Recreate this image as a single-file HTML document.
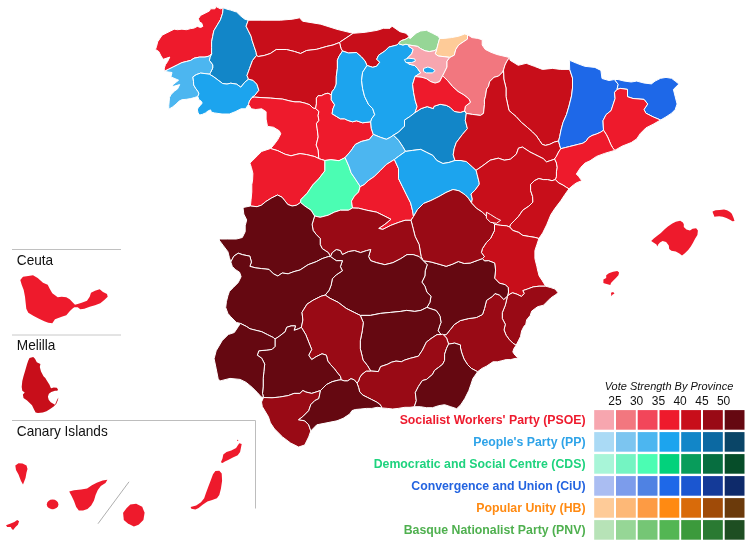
<!DOCTYPE html>
<html><head><meta charset="utf-8"><style>
html,body{margin:0;padding:0;background:#fff;}
svg{display:block;}
.lab{font-family:"Liberation Sans",Arial,sans-serif;font-weight:bold;font-size:12.3px;}
.num{font-family:"Liberation Sans",Arial,sans-serif;font-size:12px;fill:#111;}
.ttl{font-family:"Liberation Sans",Arial,sans-serif;font-style:italic;font-size:11px;fill:#111;}
.ins{font-family:"Liberation Sans",Arial,sans-serif;font-size:13.65px;fill:#111;}
</style></head><body>
<svg width="750" height="545" viewBox="0 0 750 545">
<g stroke="#fff" stroke-width="1" stroke-linejoin="round">
<path d="M223.2,7.7 220.4,8.8 216,6.6 214.9,8.8 210.5,8.8 209.4,11 205,13.2 200.6,15.4 198.4,18.7 199.5,22 201.7,23.1 202.8,26.4 200.6,27.5 197.3,26.4 194,28.1 190.7,28.6 186.3,29.7 181.9,29.2 177.5,29.7 174.2,29.2 170.9,30.8 166.5,33 162.1,35.2 159.9,38.5 157.7,41.8 156.6,46.2 155.5,49.4 158.8,51.6 161,56 163.2,59.3 169.8,57.1 167.6,61.5 165.4,64.8 164.3,68.1 164.3,71.4 168.7,69.2 173.1,67 177.5,64.8 181.9,62.6 186.3,61.5 190.7,60.4 194,58.2 199.5,57.1 205,57.1 209.4,56 211.6,53.8 211.6,47.3 211.6,41.8 212.7,36.3 213.8,30.8 217.1,25.3 220.4,19.8 222.6,13.2 223.2,7.7Z" fill="#EE1A2C"/>
<path d="M223.2,7.7 226.6,9.1 230.7,10.1 236.7,12.1 240.8,16.1 244.8,19.2 248.3,20.2 246.1,26.2 248.1,30.3 251.1,36.3 252.1,40.4 254.1,46.4 256.2,52.5 256.5,55.5 252.5,60.5 249.5,68.6 247,75.5 248.5,79.2 244.8,82.2 240.8,87.2 236.7,84.2 230.7,83.2 227,84.1 222.6,83.5 218.2,80.2 213.8,76.9 209.4,74.2 210.5,72.5 212.7,68.1 212.7,64.8 209.4,60.4 210,57.1 211.6,53.8 211.6,47.3 211.6,41.8 212.7,36.3 213.8,30.8 217.1,25.3 220.4,19.8 222.6,13.2 223.2,7.7Z" fill="#1286C8"/>
<path d="M164.3,71.4 172,72.5 170.9,76.9 178.6,80.2 173.1,84.6 172,86.8 179.7,84.6 177.5,89 174.7,90.9 171,94.5 169.5,97.5 169.2,101.1 168.8,105.5 168.8,109.2 172.5,107 176.1,104.1 179.1,101.1 182,99.7 186.4,99.3 190.8,98.6 194.5,97.5 197.8,96.5 198.9,93.8 198.1,91.6 195.9,88.7 193.7,85 193.5,81.3 192.9,76.9 196.2,74.7 200.6,73.1 205,73.6 209.4,74.2 210.5,72.5 212.7,68.1 212.7,64.8 209.4,60.4 210,57.1 211.6,53.8 209.4,56 205,57.1 199.5,57.1 194,58.2 190.7,60.4 186.3,61.5 181.9,62.6 177.5,64.8 173.1,67 168.7,69.2 164.3,71.4Z" fill="#4CB6F0"/>
<path d="M209.4,74.2 205,73.6 200.6,73.1 196.2,74.7 192.9,76.9 193.5,81.3 193.7,85 195.9,88.7 198.1,91.6 198.9,93.8 197.8,96.5 198.9,99.7 201.1,101.1 202.2,103 200.3,105.5 198.1,107.7 197.4,109.9 198.1,112.9 199.6,115.1 202.5,114.3 205.5,112.9 208.4,110.7 210.6,109.9 211.3,112.1 214.3,112.9 222,114 229.4,114 235.2,111.7 241.1,108.8 245.5,108.8 248.5,104.4 249.5,101 252,97.5 254.9,95.3 258.9,90.3 256.9,84.2 252.9,80.2 248.5,79.2 244.8,82.2 240.8,87.2 236.7,84.2 230.7,83.2 227,84.1 222.6,83.5 218.2,80.2 213.8,76.9 209.4,74.2Z" fill="#1CA4EE"/>
<path d="M248.3,20.2 260.2,20.2 280.4,20.2 292.5,19.2 299.6,17.8 302.6,21.2 320.8,24.2 336.9,29.3 353.1,33.3 347,37.4 341,41.4 339.5,42.5 333,45 326.8,46.4 316.7,49.3 306.6,50.5 300.6,53.5 294.5,51.5 286.4,49.5 276.3,49.5 270.3,53.5 264.2,55.5 258.2,56.5 256.5,55.5 256.2,52.5 254.1,46.4 252.1,40.4 251.1,36.3 248.1,30.3 246.1,26.2 248.3,20.2Z" fill="#C80E1A"/>
<path d="M353.1,33.3 365.2,32.3 377.3,30.3 383.3,28.3 390,28.3 392.1,26.2 400,31.7 405.9,33.2 408.8,36.2 408.5,37.5 405,39.5 401.5,40.5 399,42.5 398.5,43.5 396.9,45 388.8,47.1 384.8,51.1 378.7,55.1 376.7,59.2 379.7,62.2 376.7,66.2 372.7,67.3 367,65.5 365,61 361.5,57 356.5,52.5 348.5,53 342.5,51 341,48.5 339.5,42.5 341,41.4 347,37.4 353.1,33.3Z" fill="#C80E1A"/>
<path d="M256.5,55.5 258.2,56.5 264.2,55.5 270.3,53.5 276.3,49.5 286.4,49.5 294.5,51.5 300.6,53.5 306.6,50.5 316.7,49.3 326.8,46.4 333,45 339.5,42.5 341,48.5 342.5,51 338.9,56.5 337.4,60.2 337.4,68.3 336.3,76.3 336.2,84.1 334.6,88.3 332.1,91.6 331.3,94.9 328,93.2 324.7,94 321.4,95.7 318.1,95.7 316.4,98.2 316.4,103.9 315.6,108.6 313.1,108.1 309.8,104.8 304.9,103.1 299.9,101.9 295,101.9 290,101 282.5,99.1 270.4,98.1 260,97.5 254.2,97.1 252,97.5 254.9,95.3 258.9,90.3 256.9,84.2 252.9,80.2 248.5,79.2 247,75.5 249.5,68.6 252.5,60.5 256.5,55.5Z" fill="#C80E1A"/>
<path d="M252,97.5 249.5,101 248.5,104.4 251.4,108.8 255.8,109.5 261.7,108.8 266.1,111.7 266.1,119.1 267.5,126.4 273.4,127.2 279.3,130.8 280.8,133.8 277.8,139.6 273.4,145.5 270.5,148.5 277.8,150.7 285.2,154.3 291,155.8 296.9,154.3 300,153.6 306.7,154.6 314.8,156.6 318.8,158.6 318.2,150 316.2,145 318.2,136.9 317.2,128.8 316.4,123.7 318.9,120.4 318.1,115.5 318.9,111.4 315.6,108.6 313.1,108.1 309.8,104.8 304.9,103.1 299.9,101.9 295,101.9 290,101 282.5,99.1 270.4,98.1 260,97.5 254.2,97.1 252,97.5Z" fill="#EE1A2C"/>
<path d="M315.6,108.6 316.4,103.9 316.4,98.2 318.1,95.7 321.4,95.7 324.7,94 328,93.2 331.3,94.9 331.3,99.8 334.6,104.8 332.9,108.9 332.1,113.8 336.2,116.3 340.3,118.8 344.5,118.8 347.8,120.4 352.5,121.8 356.5,120.8 362.6,122.8 370.7,121.8 371.3,128.4 373.3,134.4 369.3,139.5 361.2,141.5 355.2,144.5 351.1,150.6 345.1,157.6 339,160.7 330.9,159.7 324.9,160.5 321.5,159.5 318.8,158.6 318.2,150 316.2,145 318.2,136.9 317.2,128.8 316.4,123.7 318.9,120.4 318.1,115.5 318.9,111.4 315.6,108.6Z" fill="#EE1A2C"/>
<path d="M270.5,148.5 261.7,151.4 257.3,155.8 252.9,160.2 249.9,163.1 251.4,167.5 252.9,173.4 252.6,180 251.8,184.7 251.8,192 251.1,199.4 250.4,206 257,206.7 261.4,205.2 265.8,201.6 271.7,197.9 277.5,195 282,197.2 284.9,200.8 287.8,204.5 292.2,206 296.6,205.2 300.5,202.5 301,199.4 304,196.4 306.9,193.5 308.7,191 312.8,184.9 318.8,178.8 324.9,170.8 324.9,160.5 321.5,159.5 318.8,158.6 314.8,156.6 306.7,154.6 300,153.6 296.9,154.3 291,155.8 285.2,154.3 277.8,150.7 270.5,148.5Z" fill="#EE1A2C"/>
<path d="M324.9,160.5 324.9,170.8 318.8,178.8 312.8,184.9 308.7,191 306.9,193.5 304,196.4 301,199.4 300.5,202.5 305,206.2 311,210.2 314.6,216 320.2,217.3 328.3,215.2 334.3,212.2 340.4,210.2 348.5,210.2 352.5,208 351.5,201.1 354.5,196.1 358.6,192 360.1,186.7 359.2,184.9 355.2,178.8 351.1,172.8 349.1,166.7 345.1,157.6 339,160.7 330.9,159.7 324.9,160.5Z" fill="#4BFDB3"/>
<path d="M342.5,51 348.5,53 356.5,52.5 361.5,57 365,61 367,65.5 362.6,72.3 361.6,80.4 362.6,88.5 364.6,96.5 368.6,104.6 372.7,108.6 374.7,114.7 371.7,118.7 370.7,121.8 362.6,122.8 356.5,120.8 352.5,121.8 347.8,120.4 344.5,118.8 340.3,118.8 336.2,116.3 332.1,113.8 332.9,108.9 334.6,104.8 331.3,99.8 331.3,94.9 332.1,91.6 334.6,88.3 336.2,84.1 336.3,76.3 337.4,68.3 337.4,60.2 338.9,56.5 342.5,51Z" fill="#1CA4EE"/>
<path d="M367,65.5 372.7,67.3 376.7,66.2 379.7,62.2 376.7,59.2 378.7,55.1 384.8,51.1 388.8,47.1 396.9,45 398.5,43.5 400,44.2 402.9,45 405.9,44.2 409,45 408.8,46.4 413.2,49.4 411.7,53.8 407.3,58.2 405.9,61.1 408.8,64.1 414.7,65.5 417.6,68.5 420.6,72.9 415,76.5 412.6,84.4 413.6,92.5 415.3,100.9 417.1,106.6 415.1,112.5 410.6,116.1 404.5,120.1 404.5,126.2 398.5,132.2 393.4,135.2 390.4,137.3 386.3,139.3 380.3,137.3 373.3,134.4 371.3,128.4 370.7,121.8 371.7,118.7 374.7,114.7 372.7,108.6 368.6,104.6 364.6,96.5 362.6,88.5 361.6,80.4 362.6,72.3 367,65.5Z" fill="#1CA4EE"/>
<path d="M393.4,135.2 398.5,132.2 404.5,126.2 404.5,120.1 410.6,116.1 415.1,112.5 421.1,108.6 427.2,106.6 433.3,108.6 434,106.3 440.1,104.3 446.2,105.3 450.2,107.4 454.2,111.4 460.3,112.4 464.5,111 466.3,113.4 465.3,120.5 467.4,128.6 462.3,134.6 456.2,142.7 454.2,148.7 453.2,154.8 455,160.5 448.9,162.5 442.9,163.5 436.8,160.5 432.8,155.4 426.7,152.4 420.7,149.4 412.6,150.4 405.5,151.4 402.5,146.3 398.5,140.3 393.4,135.2Z" fill="#1286C8"/>
<path d="M373.3,134.4 380.3,137.3 386.3,139.3 390.4,137.3 393.4,135.2 398.5,140.3 402.5,146.3 405.5,151.4 398.5,156.4 394.4,159.5 386.3,164.5 380.3,170.6 374.2,176.6 368.2,180.7 364.1,184.7 360.1,186.7 359.2,184.9 355.2,178.8 351.1,172.8 349.1,166.7 345.1,157.6 351.1,150.6 355.2,144.5 361.2,141.5 369.3,139.5 373.3,134.4Z" fill="#4CB6F0"/>
<path d="M360.1,186.7 364.1,184.7 368.2,180.7 374.2,176.6 380.3,170.6 386.3,164.5 394.4,159.5 398.5,168.6 398.5,178.6 402.5,186.7 406.5,194.8 410.6,202.9 412.6,210.9 413.5,216.5 411,220.3 405,220.3 398.9,222.3 390.9,225.3 382.8,229.4 378.7,228.4 384.8,224.3 390.9,219.3 384.8,216.2 376.7,212.2 366.6,210.2 358.6,208.2 352.5,208 351.5,201.1 354.5,196.1 358.6,192 360.1,186.7Z" fill="#EE1A2C"/>
<path d="M394.4,159.5 398.5,156.4 405.5,151.4 412.6,150.4 420.7,149.4 426.7,152.4 432.8,155.4 436.8,160.5 442.9,163.5 448.9,162.5 455,160.5 461,160.5 466.3,161.5 472.4,166.9 476.1,170.3 477.2,174.6 479.2,182.7 479.2,184.4 475.2,190 471,194 472.3,199 471.5,203 468.3,198.1 465.1,194.8 459,190.8 453,189.5 446,192.5 439,196.5 431,200.5 423.5,203.5 417.5,209.5 413.5,216.5 412.6,210.9 410.6,202.9 406.5,194.8 402.5,186.7 398.5,178.6 398.5,168.6 394.4,159.5Z" fill="#1CA4EE"/>
<path d="M408.5,37.5 410.3,38.5 413,36 416.2,33.2 420.6,31 426.4,30.3 432.3,33.2 438.2,36.2 439.6,38.5 438.2,43.5 436.7,49.4 433.8,50.8 429.4,51.6 425,50.8 420.6,48.6 417.6,46.4 413.2,45.7 409,45 405.9,44.2 402.9,45 400,44.2 398.5,43.5 399,42.5 401.5,40.5 405,39.5 408.5,37.5Z" fill="#96D696"/>
<path d="M439.6,38.5 444.1,38.4 451.4,37.6 458.7,36.2 464.6,34 467.5,34.7 467.5,39.1 463.1,42 458.7,45 455.8,49.4 454.3,55.2 449.9,57.4 444.1,56.7 438.2,56 435.2,53.8 436.7,49.4 438.2,43.5 439.6,38.5Z" fill="#FECB98"/>
<path d="M409,45 413.2,45.7 417.6,46.4 420.6,48.6 425,50.8 429.4,51.6 433.8,50.8 436.7,49.4 435.2,53.8 438.2,56 444.1,56.7 449.9,57.4 447,61.1 447,67 444.1,72.9 442.6,75.8 439.6,81.7 435.2,83.1 430.8,81.7 426.4,78.7 422,77.3 415,76.5 420.6,72.9 417.6,68.5 414.7,65.5 408.8,64.1 405.9,61.1 407.3,58.2 411.7,53.8 413.2,49.4 408.8,46.4 409,45Z" fill="#F7A6AF"/>
<path d="M467.5,34.7 472,37.6 477.8,38.4 482.2,39.8 482.2,45 485.2,49.4 491,52.3 496.9,54.5 501.1,55.5 509.5,57.5 507,61 505,65 503.5,70 502.7,72 498.6,76.1 494,77.3 489.6,81.7 488.6,86.2 486.6,89 485.5,96.2 484.4,100 484.5,104.3 483.5,113.4 480.5,115.4 472.4,114.4 466.3,113.4 464.5,111 465.3,106.3 470.4,102.3 469,99 464,95 458,91.5 452.5,86.5 447.5,80.5 442.6,75.8 444.1,72.9 447,67 447,61.1 449.9,57.4 454.3,55.2 455.8,49.4 458.7,45 463.1,42 467.5,39.1 467.5,34.7Z" fill="#F2777F"/>
<path d="M415,76.5 422,77.3 426.4,78.7 430.8,81.7 435.2,83.1 439.6,81.7 442.6,75.8 447.5,80.5 452.5,86.5 458,91.5 464,95 469,99 470.4,102.3 465.3,106.3 464.5,111 460.3,112.4 454.2,111.4 450.2,107.4 446.2,105.3 440.1,104.3 434,106.3 433.3,108.6 427.2,106.6 421.1,108.6 415.1,112.5 417.1,106.6 415.3,100.9 413.6,92.5 412.6,84.4 415,76.5Z" fill="#EE1A2C"/>
<path d="M509.5,57.5 510.1,60.3 518.2,65.3 526.2,63.3 534.3,66.3 542.4,69.4 552.5,68.4 560.6,69.4 569.7,69.4 572.5,78 572.5,88 571.5,96 569,106 566.5,114.5 563,122.5 561,130 559.7,136.6 558.6,141 554.2,142.1 549.8,144.3 545.4,145.4 542.1,144.3 539.5,140.5 536.5,136 532.5,132 527.5,127.5 521.5,122.5 516,116.5 509,110.5 507.8,105 506,96.5 506,88 503.8,79 503.5,70 505,65 507,61 509.5,57.5Z" fill="#C80E1A"/>
<path d="M464.5,111 466.3,113.4 472.4,114.4 480.5,115.4 483.5,113.4 484.5,104.3 484.4,100 485.5,96.2 486.6,89 488.6,86.2 489.6,81.7 494,77.3 498.6,76.1 502.7,72 503.5,70 503.8,79 506,88 506,96.5 507.8,105 509,110.5 516,116.5 521.5,122.5 527.5,127.5 532.5,132 536.5,136 539.5,140.5 542.1,144.3 545.4,145.4 549.8,144.3 554.2,142.1 558.6,141 559.7,145.4 560.8,148.7 558.6,152 556.4,156.4 554.5,159 553.1,159.7 549.8,160.8 546.5,161.9 543.2,158.6 538.8,156.4 534.4,154.2 530,152 528.6,151.1 522.5,147.1 518.5,148.1 516.4,154.1 510.4,159.2 504.3,160.2 498.3,158.2 490.2,160.2 482.1,166.2 476.1,170.3 472.4,166.9 466.3,161.5 461,160.5 455,160.5 453.2,154.8 454.2,148.7 456.2,142.7 462.3,134.6 467.4,128.6 465.3,120.5 466.3,113.4 464.5,111Z" fill="#C80E1A"/>
<path d="M569.7,69.4 569.5,64 569.7,60.3 576.7,63.3 584.8,66.3 594.9,67.4 600.9,70.4 602,78.5 609,80.5 614.5,79.5 618.2,84.3 617,89.5 614.5,92.4 615.1,98.5 613.1,104.5 611.1,110.6 606.1,114.6 603,120.7 603.5,130.2 600.6,132.2 596.5,134 592,135.5 588.4,137.7 586.2,141 582.9,143.2 578.5,144.3 574.1,145.4 569.6,146.5 565.2,147.6 560.8,148.7 559.7,145.4 558.6,141 559.7,136.6 561,130 563,122.5 566.5,114.5 569,106 571.5,96 572.5,88 572.5,78 569.7,69.4Z" fill="#1E68E8"/>
<path d="M614.5,79.5 618,79.5 624,81 631.2,82 636.7,81.1 644,83 651.4,83.9 655,81.1 660.6,78.3 666,77.4 671.6,78.3 675.2,81.1 678.9,84 673.4,89.4 675.2,96.7 677.1,104 675.2,109.5 671.6,113.2 666,116.9 660.6,120 653.2,116.9 645.9,113.2 644,109.5 647.7,104 644,99.4 633,98.5 627.5,96.7 627.5,89.4 620.2,88.4 617,89.5 618.2,84.3 614.5,79.5Z" fill="#1E68E8"/>
<path d="M617,89.5 620.2,88.4 627.5,89.4 627.5,96.7 633,98.5 644,99.4 647.7,104 644,109.5 645.9,113.2 653.2,116.9 660.6,120 653.2,124.2 645.9,127.9 640.4,133.4 636.7,138.9 631.2,142.6 622,146.2 614.7,150.4 612.5,147.5 610.7,144.3 608.1,138 606.3,134.5 603.5,130.2 603,120.7 606.1,114.6 611.1,110.6 613.1,104.5 615.1,98.5 614.5,92.4 617,89.5Z" fill="#EE1A2C"/>
<path d="M560.8,148.7 565.2,147.6 569.6,146.5 574.1,145.4 578.5,144.3 582.9,143.2 586.2,141 588.4,137.7 592,135.5 596.5,134 600.6,132.2 603.5,130.2 606.3,134.5 608.1,138 610.7,144.3 612.5,147.5 614.7,150.4 604.6,153.4 596.5,156.4 590,160.8 585.1,163 580.7,167.4 576.3,174.1 578.5,176.3 581.8,180.7 576.3,182.9 571.9,186.2 569,188.8 566.3,187.3 563,185.1 558.6,182.9 555.3,179.6 556.4,176.3 556.4,171.9 557,167.4 556.4,163 554.5,159 556.4,156.4 558.6,152 560.8,148.7Z" fill="#EE1A2C"/>
<path d="M476.1,170.3 482.1,166.2 490.2,160.2 498.3,158.2 504.3,160.2 510.4,159.2 516.4,154.1 518.5,148.1 522.5,147.1 528.6,151.1 530,152 534.4,154.2 538.8,156.4 543.2,158.6 546.5,161.9 549.8,160.8 553.1,159.7 554.5,159 556.4,163 557,167.4 556.4,171.9 556.4,176.3 555.3,179.6 552,180.7 547.6,179.6 543.2,179.6 538.8,178.5 534.4,180.7 530.6,184.4 530.6,190.5 532.6,196.5 532.9,202.1 528.8,206.2 522.8,210.2 518.7,216.2 514.7,220.3 510.7,224.3 509.7,227 506.5,225.8 500.5,225.3 494.5,224.3 490.5,220.3 486.4,216.2 482.4,212.2 476.3,208.2 471.5,203 472.3,199 471,194 475.2,190 479.2,184.4 479.2,182.7 477.2,174.6 476.1,170.3Z" fill="#C80E1A"/>
<path d="M555.3,179.6 558.6,182.9 563,185.1 566.3,187.3 569,188.8 564.9,194.5 560.9,200.6 554.8,208.6 550.8,214.7 546.7,224.8 542.7,232.9 538.9,238.5 534.9,237.4 528.8,236.4 522.8,235.4 518.7,232.4 512.7,230.4 509.7,227 510.7,224.3 514.7,220.3 518.7,216.2 522.8,210.2 528.8,206.2 532.9,202.1 532.6,196.5 530.6,190.5 530.6,184.4 534.4,180.7 538.8,178.5 543.2,179.6 547.6,179.6 552,180.7 555.3,179.6Z" fill="#C80E1A"/>
<path d="M494.5,224.3 500.5,225.3 506.5,225.8 509.7,227 512.7,230.4 518.7,232.4 522.8,235.4 528.8,236.4 534.9,237.4 538.9,238.5 536.9,244.5 534.9,250.6 534.9,258.6 536.9,266.7 537.6,270 539.1,275.9 542,280.3 545.7,286.2 539.1,286.2 533.2,286.9 527.3,289.1 522.9,290.6 524.4,293.5 521.4,296.4 517,294.2 512.6,292.8 510,294 507.5,296 508.5,292 508.2,287.6 505.3,284.7 499.4,283.2 494.6,278.2 495.6,270.1 494.6,263 488.5,260.7 484.5,261 482.4,258.6 484.4,256.6 481.4,252.6 482.4,248.6 486.4,242.5 490.5,238.5 494.5,230.4 494.5,224.3Z" fill="#C80E1A"/>
<path d="M545.7,286.2 539.1,286.2 533.2,286.9 527.3,289.1 522.9,290.6 524.4,293.5 521.4,296.4 517,294.2 512.6,292.8 510,294 507.5,296 505.3,305.2 502.3,312.6 502.3,318.5 505.3,324.3 504,329.9 506.2,335.4 509.5,339.8 512.8,343.1 516.1,345.3 518.3,340.9 520.5,336.5 521.6,331 523.8,326.6 525.8,324.3 526.6,319.9 530.2,315.5 531.7,311.1 537.6,306.7 543.5,305.2 546.4,302.3 550.8,297.9 555.2,295 558.1,292.8 555.2,289.1 550.8,287.6 545.7,286.2Z" fill="#990A15"/>
<path d="M441,334.6 446.2,334.7 450.2,329.7 454.2,324.6 460.3,320.6 468.4,318.6 476.4,317.5 482.5,314.5 484.5,308.5 486.5,300.4 492.6,296.3 495,293.5 499.4,295 503.8,299.4 507.5,296 505.3,305.2 502.3,312.6 502.3,318.5 505.3,324.3 504,329.9 506.2,335.4 509.5,339.8 512.8,343.1 516.1,345.3 513.9,348.6 512.8,351.9 515,355.2 518.3,358 515,358.5 510.6,359.6 506.2,359.6 501.8,360.7 497.4,361.8 493,361.8 489.7,364 486.4,366.2 482,368.4 477.6,371.7 471.5,368.5 467.5,364.5 464,359 461.8,353 460.5,348 460.5,345 454.7,343.1 448.6,344.1 446.6,338.1 442.6,334 441,334.6Z" fill="#990A15"/>
<path d="M423.2,260.7 431.2,262 440.1,264.5 446.2,266.3 452.2,264.3 458.3,261.5 464.3,263.5 470.4,263 478.5,260 482.4,258.6 484.5,261 488.5,260.7 494.6,263 495.6,270.1 494.6,278.2 499.4,283.2 505.3,284.7 508.2,287.6 508.5,292 507.5,296 503.8,299.4 499.4,295 495,293.5 492.6,296.3 486.5,300.4 484.5,308.5 482.5,314.5 476.4,317.5 468.4,318.6 460.3,320.6 454.2,324.6 450.2,329.7 446.2,334.7 441,334.6 438.1,330.7 440.1,324.6 441,322.5 440.1,316.5 439,314.4 436.1,310.5 430,308.5 426.9,307.4 429.9,302.3 431,296.2 426.9,292.2 424.9,286.2 421.9,282.1 424.9,276 425.2,270.8 427.2,264.7 423.2,260.7Z" fill="#650811"/>
<path d="M423.2,260.7 421.1,256.6 420.1,250.6 419.1,244.5 415.1,236.4 413.1,228.4 411,220.3 413.5,216.5 417.5,209.5 423.5,203.5 431,200.5 439,196.5 446,192.5 453,189.5 459,190.8 465.1,194.8 468.3,198.1 471.5,203 476.3,208.2 482.4,212.2 486.4,216.2 490.5,220.3 494.5,224.3 494.5,230.4 490.5,238.5 486.4,242.5 482.4,248.6 481.4,252.6 484.4,256.6 482.4,258.6 478.5,260 470.4,263 464.3,263.5 458.3,261.5 452.2,264.3 446.2,266.3 440.1,264.5 431.2,262 423.2,260.7Z" fill="#990A15"/>
<path d="M314.6,216 320.2,217.3 328.3,215.2 334.3,212.2 340.4,210.2 348.5,210.2 352.5,208 358.6,208.2 366.6,210.2 376.7,212.2 384.8,216.2 390.9,219.3 384.8,224.3 378.7,228.4 382.8,229.4 390.9,225.3 398.9,222.3 405,220.3 411,220.3 413.1,228.4 415.1,236.4 419.1,244.5 420.1,250.6 421.1,256.6 423.2,260.7 419.1,256.6 413.1,254.6 407,254.6 400.9,258.6 392.9,262.7 384.8,264.7 376.7,262.7 370.7,260.7 368.6,256.6 370.7,249.6 366.6,250.6 360.6,252.6 354.5,250.6 348.5,251.6 342.4,254.6 340.4,250.6 336.3,249.6 332.3,252.6 330.5,256.6 328.3,252.6 322.2,248.6 320.2,244.5 320.2,238.5 316.2,234.4 313.1,230.4 312.1,224.3 314.6,216Z" fill="#990A15"/>
<path d="M330.5,256.6 332.3,252.6 336.3,249.6 340.4,250.6 342.4,254.6 348.5,251.6 354.5,250.6 360.6,252.6 366.6,250.6 370.7,249.6 368.6,256.6 370.7,260.7 376.7,262.7 384.8,264.7 392.9,262.7 400.9,258.6 407,254.6 413.1,254.6 419.1,256.6 423.2,260.7 427.2,264.7 425.2,270.8 424.9,276 421.9,282.1 424.9,286.2 426.9,292.2 431,296.2 429.9,302.3 426.9,307.4 420.9,310.4 414.8,311.4 406.7,310.4 400.7,311.4 390.6,312.4 380.5,313.4 370.4,315.4 360.3,315.4 354.2,312.4 346.2,308.4 338.1,302.3 330,298.3 325.2,295.1 329.2,290.1 331.2,284.9 332.3,278.8 336.3,274.8 342.4,270.8 340.4,266.7 342.4,260.7 336.3,260.7 330.5,256.6Z" fill="#650811"/>
<path d="M300.5,202.5 296.6,205.2 292.2,206 287.8,204.5 284.9,200.8 282,197.2 277.5,195 271.7,197.9 265.8,201.6 261.4,205.2 257,206.7 250.4,206 243,207.5 243.8,214.1 246.7,219.9 245.2,225.8 245.2,231.7 242.3,237.5 236.4,239 227.6,239 220.3,239 219.1,240 223.5,245.9 227.9,251.7 229.4,257.6 230.8,262 233.8,256.2 238.2,253.2 242.6,254.7 249.9,256.2 251.4,262 249.9,266.4 255.8,267.9 261.7,268.6 269,269.4 273.4,273.8 277.8,276 282.2,273 288.1,273.8 294,271.6 300,270 308.1,264.7 316.2,261.7 322.2,258.6 328.3,256.6 330.5,256.6 328.3,252.6 322.2,248.6 320.2,244.5 320.2,238.5 316.2,234.4 313.1,230.4 312.1,224.3 314.6,216 311,210.2 305,206.2 300.5,202.5Z" fill="#650811"/>
<path d="M230.8,262 232.3,266.4 235.2,269.4 239.6,272.3 241.1,276.7 238.2,282.6 233.8,287 229.4,291.4 227.9,295.8 226.4,301.7 225.7,307.5 227.9,313.4 230.3,316.3 236.3,322.4 240.4,323.4 246.4,326.4 250,328.8 255.9,330.3 261.7,331.7 267.6,334.7 273.5,337.6 275,339.1 279.4,336.2 285.2,331.7 286.7,327.3 291.1,325.9 295.5,325.9 294.1,330.3 298.5,328.8 301.4,327.3 302.9,320 302,312.3 307,304.2 313.1,300.2 321.1,296.2 325.2,295.1 329.2,290.1 331.2,284.9 332.3,278.8 336.3,274.8 342.4,270.8 340.4,266.7 342.4,260.7 336.3,260.7 330.5,256.6 328.3,256.6 322.2,258.6 316.2,261.7 308.1,264.7 300,270 294,271.6 288.1,273.8 282.2,273 277.8,276 273.4,273.8 269,269.4 261.7,268.6 255.8,267.9 249.9,266.4 251.4,262 249.9,256.2 242.6,254.7 238.2,253.2 233.8,256.2 230.8,262Z" fill="#650811"/>
<path d="M360.3,315.4 370.4,315.4 380.5,313.4 390.6,312.4 400.7,311.4 406.7,310.4 414.8,311.4 420.9,310.4 426.9,307.4 430,308.5 436.1,310.5 439,314.4 440.1,316.5 441,322.5 440.1,324.6 438.1,330.7 441,334.6 437,334.6 431,338.6 426.4,342.1 422.4,350.2 418.4,356.2 410.3,358.3 404.8,360 401.5,361.7 396,361.1 391.6,362.2 387.2,364.4 380.6,366.6 378.4,371.6 370.7,371 367.4,365.5 363,360 362.3,356.8 360.3,348.7 360.3,340.7 362.3,330.6 363.3,322.5 360.3,315.4Z" fill="#650811"/>
<path d="M370.7,371 378.4,371.6 380.6,366.6 387.2,364.4 391.6,362.2 396,361.1 401.5,361.7 404.8,360 410.3,358.3 418.4,356.2 422.4,350.2 426.4,342.1 431,338.6 437,334.6 441,334.6 442.6,334 446.6,338.1 448.6,344.1 446.6,348.2 444.6,354.2 444.6,360.3 442.6,364.3 438.6,367.4 434.5,370.4 432.5,374.4 426.4,379.5 422.4,380.5 418.4,386.5 415.3,392.6 416.3,400.7 414.3,406.7 410,407.3 404.8,407.3 398.2,408.4 392.7,409 387.2,408.4 381.7,407.9 381.2,406.2 379.5,404 376.2,401.8 371.8,399.6 367.4,397.4 363,395.2 359.7,391.9 358.6,387.5 357,383.1 358.6,380.9 359.7,377.6 361.9,374.3 366.3,371 370.7,371Z" fill="#990A15"/>
<path d="M448.6,344.1 454.7,343.1 460.5,345 460.5,348 461.8,353 464,359 467.5,364.5 471.5,368.5 477.6,371.7 475.4,375 472.9,378.5 470.9,384.5 468.8,390.6 464.8,398.6 460.8,404.7 456.7,408.7 450.7,406.7 444.6,404.7 438.6,405.7 432.5,407.7 426.4,407.7 420.4,406.7 414.3,406.7 416.3,400.7 415.3,392.6 418.4,386.5 422.4,380.5 426.4,379.5 432.5,374.4 434.5,370.4 438.6,367.4 442.6,364.3 444.6,360.3 444.6,354.2 446.6,348.2 448.6,344.1Z" fill="#650811"/>
<path d="M325.2,295.1 321.1,296.2 313.1,300.2 307,304.2 302,312.3 302.9,320 301.4,327.3 305.8,334.7 308.7,342 311.7,349.4 308.7,355.2 311.7,359.6 316.1,356.7 322,353.8 326.4,355.2 327.8,361.1 330.5,364.5 334.4,368.8 338,373.5 340.5,376.5 341,379.8 344.3,380.9 347.6,380.9 350.9,378.7 354.2,379.8 357,383.1 358.6,380.9 359.7,377.6 361.9,374.3 366.3,371 370.7,371 367.4,365.5 363,360 362.3,356.8 360.3,348.7 360.3,340.7 362.3,330.6 363.3,322.5 360.3,315.4 354.2,312.4 346.2,308.4 338.1,302.3 330,298.3 325.2,295.1Z" fill="#990A15"/>
<path d="M301.4,327.3 305.8,334.7 308.7,342 311.7,349.4 308.7,355.2 311.7,359.6 316.1,356.7 322,353.8 326.4,355.2 327.8,361.1 330.5,364.5 334.4,368.8 338,373.5 340.5,376.5 341,379.8 338.1,380.2 332.2,381.7 326.4,384.6 320.5,390.5 316.1,392 311.7,393.4 305.8,392 302.9,390.5 299.9,393.4 294.1,393.4 288.2,395.6 279.4,397.1 272,397.8 263.5,397.5 262.5,393.4 263.2,386.1 263.2,378.7 263.9,371.4 264.7,364.1 261.7,358.2 257.3,355.2 258.8,350.8 266.2,350.1 272,349.4 275,346.4 275,339.1 279.4,336.2 285.2,331.7 286.7,327.3 291.1,325.9 295.5,325.9 294.1,330.3 298.5,328.8 301.4,327.3Z" fill="#650811"/>
<path d="M240.4,323.4 238.4,326.4 234.3,332.5 228.3,334.5 222.2,340.6 216.2,350.7 214.1,358.7 216.2,368.8 218.2,378.9 220.2,380.9 230,378.4 240.1,379.4 246.2,382.4 252.2,387.4 257.3,392.5 261.3,397 263.5,397.5 262.5,393.4 263.2,386.1 263.2,378.7 263.9,371.4 264.7,364.1 261.7,358.2 257.3,355.2 258.8,350.8 266.2,350.1 272,349.4 275,346.4 275,339.1 273.5,337.6 267.6,334.7 261.7,331.7 255.9,330.3 250,328.8 246.4,326.4 240.4,323.4Z" fill="#650811"/>
<path d="M263.5,397.5 261.5,402 262.3,406.6 268.4,416.7 270.4,422.8 274.4,428.8 282.5,436.9 290.6,443 298.6,447 304.7,445 308.7,436.9 310.8,430.9 308.7,424.8 304.7,420.8 298.6,419.7 302.7,416.7 308.7,410.7 310.8,404.6 314.8,400.6 318.8,398.6 320.5,390.5 316.1,392 311.7,393.4 305.8,392 302.9,390.5 299.9,393.4 294.1,393.4 288.2,395.6 279.4,397.1 272,397.8 263.5,397.5Z" fill="#990A15"/>
<path d="M320.5,390.5 318.8,398.6 314.8,400.6 310.8,404.6 308.7,410.7 302.7,416.7 298.6,419.7 304.7,420.8 308.7,424.8 310.8,430.9 316.8,424.8 326.9,422.8 337,420.8 343.2,418.3 346.5,416.1 349.8,413.9 352,410.6 355.3,409.5 360.8,409 366.3,408.4 371.8,408.4 377.3,407.3 381.7,407.9 381.2,406.2 379.5,404 376.2,401.8 371.8,399.6 367.4,397.4 363,395.2 359.7,391.9 358.6,387.5 357,383.1 354.2,379.8 350.9,378.7 347.6,380.9 344.3,380.9 341,379.8 338.1,380.2 332.2,381.7 326.4,384.6 320.5,390.5Z" fill="#650811"/>
<path d="M423.5,68.5 427.9,67 432.3,68.5 435.2,70.7 432.3,72.9 426.4,72.9 423.5,71.4Z" fill="#1CA4EE"/>
<path d="M404.4,59.6 408.8,58.2 414.7,58.9 415.4,61.1 411.7,62.6 405.9,62.6Z" fill="#1CA4EE"/>
<path d="M486.4,212.2 490.5,214.5 496.5,218.3 500.6,220.3 496.5,223.3 490.5,222.3 486.4,218.3Z" fill="#C80E1A"/>
</g>
<g>
<path d="M651.2,241.1 653.8,238.4 657.3,235.8 660.9,233.1 664.4,229.6 667.9,226.5 672.3,223.5 675.8,221.7 680.2,220.8 682.9,222.6 683.8,224.3 683.8,227 686.4,229.6 689.9,230.5 692.6,228.7 696.1,228.3 697.9,230.5 697.4,234.9 695.2,238.4 693,242.8 690.8,246.4 688.2,249.9 684.6,253.4 682,255.6 679.4,253.4 675.8,251.6 671.4,250.8 669.2,249 668.8,245.5 666.1,242 662.6,241.1 660,242.4 658.2,244.6 657.3,246.4 656.5,244.6 653.8,242.8Z" fill="#EE1A2C"/>
<path d="M712.6,211.4 715.6,210.2 719.8,209.9 724,209.6 727,210.2 730,212 731.8,213.8 733.6,218 734.5,221 732.4,221.3 730,219.8 726.4,218 722.8,216.8 719.2,216.2 716.2,216.5 714.4,216.8 713.8,215 712.9,212.9Z" fill="#EE1A2C"/>
<path d="M603.4,282.9 603.4,279.4 606.2,278 606.2,275.2 608.9,273.2 613.1,271.8 617.3,271.1 619.1,272.5 618.4,275.2 615.9,278 613.1,280.8 611,282.9 610.3,285 607.6,284.3 604.8,283.6Z" fill="#EE1A2C"/>
<path d="M611,292.7 613.1,292 614.5,293.4 612.4,294.8 611.4,296.2Z" fill="#EE1A2C"/>
<path d="M20.3,280 23,276.7 28.3,276 33,275.3 37.7,278 43,282.7 47.7,284.7 49.7,288.7 52.3,293.3 55,295.3 57.7,297.3 61.7,296.7 66.3,297.3 69.7,299.3 72.3,302 75,304.7 77.7,304 81.7,302.7 87,300.7 89.7,296.7 91,292.7 95,290.7 99.7,289.3 103,292 107,294 107.7,296.7 104.3,300 100.3,303.3 95,305.3 89.7,306.7 84.3,308.7 80.3,309.3 77.7,307.3 74.3,307.3 72.3,308.7 69.7,311.3 66.3,315.3 61.7,316.7 55,319.3 52.3,323.3 48.3,322.7 44.3,321.3 39,318.7 33.7,316 28.3,312.7 26.3,308.7 25.7,303.3 25,296.7 23.7,290 21.7,284.7Z" fill="#EE1A2C"/>
<path d="M29.5,358.1 33.2,357.1 35,358.7 36.8,362.3 40.4,364.1 39.8,367.1 41,371.4 43.5,376.2 45.3,378 47.1,381.1 49.5,384.7 50.7,387.7 51.3,388.3 53.7,387.4 56.8,387.7 58,389.5 57.4,390.7 55,390.7 51.3,392 48.9,393.8 47.9,396.8 48.7,399.8 50.7,402.2 53.7,404.1 55,404.7 56.8,400.4 58.3,397.4 58,399.8 56.2,404.1 53.7,406.5 50.1,408.9 46.5,411.3 42.8,412.5 38,413.1 35.6,412.5 33.8,408.9 32,405.3 27.1,400.4 23.5,398 22.9,394.4 24.7,392.6 22.3,390.7 21.7,387.1 22.3,381.1 23.5,376.2 25.3,370.2 27.1,364.1 28.3,360.5Z" fill="#C80E1A"/>
<path d="M15.3,465.5 18.5,463.3 22.5,463.6 26.5,465.5 27.5,469 26.5,472.5 25.5,478 23,484.5 21,481 18.5,474.5 16,470Z" fill="#EE1A2C"/>
<path d="M69.2,491.6 74,490.2 81.1,489.4 87.1,488.6 91.9,485.2 96.7,482.8 102.6,480.4 107.4,479.7 105.5,483 100.8,486 97.8,490 95.6,495 94,500.5 91.2,505.5 87.5,509 83,510.6 78.8,510.4 76.2,506.9 74,501 71.6,496.1Z" fill="#EE1A2C"/>
<path d="M6,525.2 10.7,523.5 14.3,521.9 17.2,520 19.1,521.2 17.9,524.7 15.5,527.1 13.1,530 11.9,529 10.7,527.1 7.2,527.1Z" fill="#EE1A2C"/>
<path d="M123.1,512.8 126.7,508 130.3,504.4 136.2,503.7 142.2,506.8 144.6,512.8 143.4,519.9 138.6,524.7 133.9,526.6 127.9,523.5 123.8,519.9Z" fill="#EE1A2C"/>
<path d="M190.6,507.1 196.2,505.5 201,502.3 204.2,498.3 205.8,493.5 208.2,487.1 210.6,480.7 213,474.3 215.4,471.1 219.3,470.8 221.7,473.5 222.1,480.7 220.9,488.7 219.3,495.1 216.9,498.3 212.2,499.9 207.4,501.5 202.6,504.7 198.6,507.9 195.4,509.5 191.4,508.7Z" fill="#EE1A2C"/>
<path d="M220.9,462.3 222.5,458.4 223.3,454.4 226.5,452 231.3,450.4 236.1,448 237.7,445.6 239.3,443.2 241.7,444 240.9,448 240.1,452 237.7,455.2 232.9,457.6 228.1,460 224.9,461.5 222.5,463.1Z" fill="#EE1A2C"/>
<ellipse cx="52.6" cy="504.4" rx="5.8" ry="4.9" fill="#EE1A2C"/>
</g>

<line x1="12" y1="249.5" x2="121" y2="249.5" stroke="#c0c0c0" stroke-width="1"/>
<line x1="12" y1="335" x2="121" y2="335" stroke="#c8c8c8" stroke-width="1"/>
<polyline points="12,420.5 255.5,420.5 255.5,508.5" fill="none" stroke="#bdbdbd" stroke-width="1"/>
<circle cx="237.7" cy="440.3" r="0.6" fill="#EE1B2E"/>
<line x1="98" y1="523.7" x2="129" y2="481.8" stroke="#999" stroke-width="0.8"/>
<text transform="translate(16.8,264.8) scale(1,1.08)" class="ins">Ceuta</text>
<text transform="translate(16.8,350) scale(1,1.08)" class="ins">Melilla</text>
<text transform="translate(16.8,435.8) scale(1,1.08)" class="ins">Canary Islands</text>

<rect x="594.2" y="410.1" width="19.8" height="19.6" fill="#F7A6AF"/>
<rect x="616.0" y="410.1" width="19.8" height="19.6" fill="#F2777F"/>
<rect x="637.7" y="410.1" width="19.8" height="19.6" fill="#F2465A"/>
<rect x="659.5" y="410.1" width="19.8" height="19.6" fill="#EE1A2C"/>
<rect x="681.2" y="410.1" width="19.8" height="19.6" fill="#C80E1A"/>
<rect x="703.0" y="410.1" width="19.8" height="19.6" fill="#990A15"/>
<rect x="724.7" y="410.1" width="19.8" height="19.6" fill="#650811"/>
<text x="585.5" y="424.0" text-anchor="end" class="lab" fill="#EE1B2E">Socialist Workers&#39; Party (PSOE)</text>
<rect x="594.2" y="432.1" width="19.8" height="19.6" fill="#AADAF5"/>
<rect x="616.0" y="432.1" width="19.8" height="19.6" fill="#7CC5F0"/>
<rect x="637.7" y="432.1" width="19.8" height="19.6" fill="#4CB6F0"/>
<rect x="659.5" y="432.1" width="19.8" height="19.6" fill="#1CA4EE"/>
<rect x="681.2" y="432.1" width="19.8" height="19.6" fill="#1286C8"/>
<rect x="703.0" y="432.1" width="19.8" height="19.6" fill="#0C69A2"/>
<rect x="724.7" y="432.1" width="19.8" height="19.6" fill="#0A4567"/>
<text x="585.5" y="446.0" text-anchor="end" class="lab" fill="#2EA3E8">People&#39;s Party (PP)</text>
<rect x="594.2" y="454.1" width="19.8" height="19.6" fill="#A8F5D8"/>
<rect x="616.0" y="454.1" width="19.8" height="19.6" fill="#74F4C2"/>
<rect x="637.7" y="454.1" width="19.8" height="19.6" fill="#4BFDB3"/>
<rect x="659.5" y="454.1" width="19.8" height="19.6" fill="#02D27C"/>
<rect x="681.2" y="454.1" width="19.8" height="19.6" fill="#089C5B"/>
<rect x="703.0" y="454.1" width="19.8" height="19.6" fill="#076E40"/>
<rect x="724.7" y="454.1" width="19.8" height="19.6" fill="#064D29"/>
<text x="585.5" y="468.0" text-anchor="end" class="lab" fill="#1ED37E">Democratic and Social Centre (CDS)</text>
<rect x="594.2" y="476.1" width="19.8" height="19.6" fill="#AABDF2"/>
<rect x="616.0" y="476.1" width="19.8" height="19.6" fill="#7C9CEB"/>
<rect x="637.7" y="476.1" width="19.8" height="19.6" fill="#4F82E3"/>
<rect x="659.5" y="476.1" width="19.8" height="19.6" fill="#1E68E8"/>
<rect x="681.2" y="476.1" width="19.8" height="19.6" fill="#1B56D0"/>
<rect x="703.0" y="476.1" width="19.8" height="19.6" fill="#143A98"/>
<rect x="724.7" y="476.1" width="19.8" height="19.6" fill="#0E2A6A"/>
<text x="585.5" y="490.0" text-anchor="end" class="lab" fill="#2464E0">Convergence and Union (CiU)</text>
<rect x="594.2" y="498.1" width="19.8" height="19.6" fill="#FECB98"/>
<rect x="616.0" y="498.1" width="19.8" height="19.6" fill="#FDB877"/>
<rect x="637.7" y="498.1" width="19.8" height="19.6" fill="#FD9B44"/>
<rect x="659.5" y="498.1" width="19.8" height="19.6" fill="#FF8A12"/>
<rect x="681.2" y="498.1" width="19.8" height="19.6" fill="#D96B0A"/>
<rect x="703.0" y="498.1" width="19.8" height="19.6" fill="#A04B08"/>
<rect x="724.7" y="498.1" width="19.8" height="19.6" fill="#6B3A0B"/>
<text x="585.5" y="512.0" text-anchor="end" class="lab" fill="#FF8A12">Popular Unity (HB)</text>
<rect x="594.2" y="520.1" width="19.8" height="19.6" fill="#B7E3B7"/>
<rect x="616.0" y="520.1" width="19.8" height="19.6" fill="#96D696"/>
<rect x="637.7" y="520.1" width="19.8" height="19.6" fill="#75C675"/>
<rect x="659.5" y="520.1" width="19.8" height="19.6" fill="#53B653"/>
<rect x="681.2" y="520.1" width="19.8" height="19.6" fill="#3C9A3C"/>
<rect x="703.0" y="520.1" width="19.8" height="19.6" fill="#2A7A32"/>
<rect x="724.7" y="520.1" width="19.8" height="19.6" fill="#1E4E22"/>
<text x="585.5" y="534.0" text-anchor="end" class="lab" fill="#4FB04F">Basque Nationalist Party (PNV)</text>
<text x="614.9" y="404.6" text-anchor="middle" class="num">25</text>
<text x="636.6" y="404.6" text-anchor="middle" class="num">30</text>
<text x="658.4" y="404.6" text-anchor="middle" class="num">35</text>
<text x="680.1" y="404.6" text-anchor="middle" class="num">40</text>
<text x="701.9" y="404.6" text-anchor="middle" class="num">45</text>
<text x="723.6" y="404.6" text-anchor="middle" class="num">50</text>
<text x="669" y="389.6" text-anchor="middle" class="ttl">Vote Strength By Province</text>
</svg>
</body></html>
